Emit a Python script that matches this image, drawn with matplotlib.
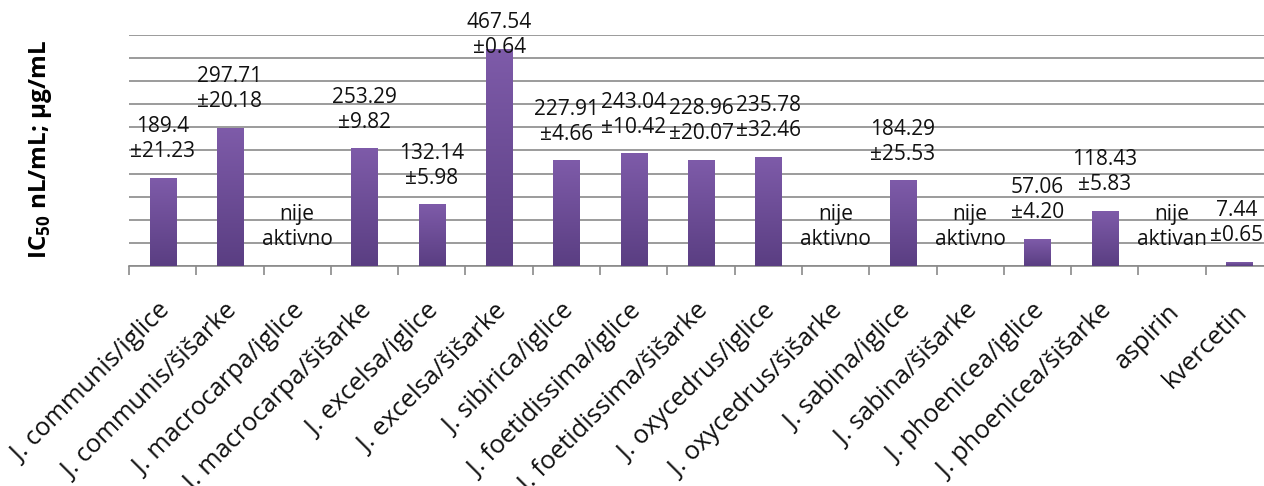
import numpy as np
import matplotlib
matplotlib.use('Agg')
import matplotlib.pyplot as plt
import matplotlib.transforms as mtransforms
from matplotlib.colors import LinearSegmentedColormap

##### data #####
categories = ['J. communis/iglice', 'J. communis/šišarke', 'J. macrocarpa/iglice',
              'J. macrocarpa/šišarke', 'J. excelsa/iglice', 'J. excelsa/šišarke',
              'J. sibirica/iglice', 'J. foetidissima/iglice', 'J. foetidissima/šišarke',
              'J. oxycedrus/iglice', 'J. oxycedrus/šišarke', 'J. sabina/iglice',
              'J. sabina/šišarke', 'J. phoenicea/iglice', 'J. phoenicea/šišarke',
              'aspirin', 'kvercetin']
values = [189.4, 297.71, None, 253.29, 132.14, 467.54, 227.91, 243.04, 228.96,
          235.78, None, 184.29, None, 57.06, 118.43, None, 7.44]
value_labels = ['189.4', '297.71', None, '253.29', '132.14', '467.54', '227.91', '243.04',
                '228.96', '235.78', None, '184.29', None, '57.06', '118.43', None, '7.44']
errors = ['±21.23', '±20.18', None, '±9.82', '±5.98', '±0.64', '±4.66', '±10.42',
          '±20.07', '±32.46', None, '±25.53', None, '±4.20', '±5.83', None, '±0.65']
inactive = ['nije\naktivno'] * 17
inactive[15] = 'nije\naktivan'

plt.rcParams['font.family'] = ['Open Sans', 'DejaVu Sans']
plt.rcParams['mathtext.fontset'] = 'custom'
plt.rcParams['mathtext.rm'] = 'Open Sans:bold'

W, H = 1264, 486
fig = plt.figure(figsize=(W / 100, H / 100), dpi=100)
ax = fig.add_axes([129 / W, 1 - 266 / H, (1273 - 129) / W, (266 - 35) / H])

x = np.arange(len(categories))
heights = [v if v is not None else 0 for v in values]
bars = ax.bar(x, heights, width=0.39, color='none', zorder=3)

# purple gradient fill, light at top, dark at bottom
cmap = LinearSegmentedColormap.from_list('purp', ['#5a3e82', '#7e5ba9'])
grad = np.linspace(0, 1, 256).reshape(-1, 1)
for b, v in zip(bars, values):
    if v is None:
        continue
    ax.imshow(grad, cmap=cmap, aspect='auto', origin='lower', zorder=3,
              extent=[b.get_x(), b.get_x() + b.get_width(), 0, b.get_height()])

ax.set_xlim(-0.5, len(categories) - 0.5)
ax.set_ylim(0, 500)
ax.set_yticks(np.arange(0, 501, 50))
ax.yaxis.grid(True, color='#8a8a8a', linewidth=1.2, zorder=0)
ax.tick_params(axis='y', length=0, labelleft=False)
for s in ['left', 'right', 'top']:
    ax.spines[s].set_visible(False)
ax.spines['bottom'].set_color('#8a8a8a')
ax.spines['bottom'].set_linewidth(1.2)

# ticks between categories, labels centred on categories
ax.set_xticks(np.arange(-0.5, len(categories), 1.0))
ax.tick_params(axis='x', which='major', length=6.5, color='#8a8a8a', width=1.2, labelbottom=False)
ax.set_xticks(x, minor=True)
ax.set_xticklabels(categories, minor=True, rotation=45, ha='right', rotation_mode='anchor',
                   fontsize=18.3, color='#111111')
ax.tick_params(axis='x', which='minor', length=0, pad=24)
shift = mtransforms.ScaledTranslation(-5 / 100, 0, fig.dpi_scale_trans)
for lab in ax.get_xticklabels(minor=True):
    lab.set_transform(lab.get_transform() + shift)

# value labels above bars (kept inside the figure for the tallest bar)
texts = []
for i, v in enumerate(values):
    if v is None:
        txt = inactive[i]
        ty = 35
    else:
        txt = value_labels[i] + '\n' + errors[i]
        ty = min(v + 35, 450)
    texts.append(ax.text(i, ty, txt, ha='center', va='bottom', fontsize=15, linespacing=1.25,
                         color='#111111', zorder=4, clip_on=False))

# nudge any label that runs past the right edge back inside
fig.canvas.draw()
for t in texts:
    bb = t.get_window_extent()
    if bb.x1 > W - 1:
        dx = (W - 1 - bb.x1) / 100
        t.set_transform(t.get_transform() + mtransforms.ScaledTranslation(dx, 0, fig.dpi_scale_trans))

fig.text(41 / W, 1 - 150 / H, r'IC$_{50}$ nL/mL; µg/mL', rotation=90, ha='center',
         va='center', fontsize=17.5, fontweight='bold')

fig.savefig('out.png', dpi=100)
